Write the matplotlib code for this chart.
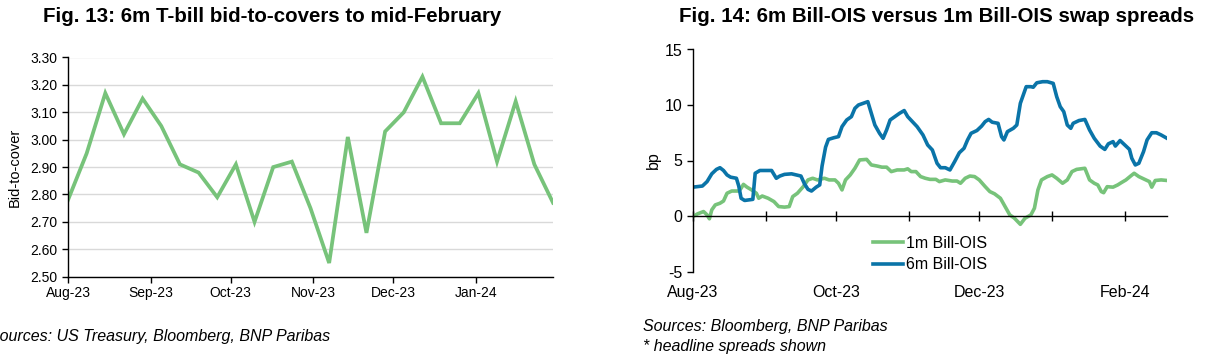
import matplotlib
matplotlib.use("Agg")
import matplotlib.pyplot as plt
import matplotlib.dates as mdates
from matplotlib.ticker import FixedLocator, FormatStrFormatter
import pandas as pd

plt.rcParams['font.family'] = ['Liberation Sans', 'DejaVu Sans']
plt.rcParams['axes.unicode_minus'] = False

# ---------------- Data: Fig. 13 (weekly 6m bill auctions) ----------------
auction_start = "2023-08-01"
bid_to_cover = [2.78, 2.95, 3.17, 3.02, 3.15, 3.05, 2.91, 2.88, 2.79, 2.91,
                2.70, 2.90, 2.92, 2.75, 2.55, 3.01, 2.66, 3.03, 3.10, 3.23,
                3.06, 3.06, 3.17, 2.92, 3.14, 2.91, 2.77]
left_yticks = [2.50, 2.60, 2.70, 2.80, 2.90, 3.00, 3.10, 3.20, 3.30]

# ---------------- Data: Fig. 14 (spreads, bp) ----------------
spread_start = "2023-08-01"
days_6m = [0, 4, 6, 8, 10, 11.5, 13, 14.5, 16, 18.5, 19.5, 20.5, 22, 25.5, 26.5,
           28.5, 33.5, 35.5, 37, 39, 42, 46, 47.5, 49, 50.5, 52.5, 54, 55, 56.5,
           57.7, 60, 62, 63.5, 65.5, 67.5, 69, 70.5, 72.5, 74.5, 76, 77.5, 79.5,
           81, 82.5, 84, 86, 88, 90, 91.5, 93.5, 95.5, 98, 100, 102, 104, 105.5,
           107.5, 109.5, 111.5, 113.5, 115.5, 117, 118.5, 121, 123, 124.5, 126,
           127.5, 130, 131.5, 132.5, 134, 136.5, 138, 139.5, 141, 142, 144, 145,
           146.5, 149, 151, 153.5, 155, 156.5, 158, 159.5, 161, 162, 164.5, 167,
           169, 171, 173.5, 175.5, 177, 179, 180, 182, 184, 186, 187, 188.5,
           190, 192, 193.5, 195.5, 197.5, 199.5, 202]
bill_ois_6m = [2.6, 2.7, 3.1, 3.8, 4.2, 4.35, 4.1, 3.7, 3.5, 3.4, 2.7, 1.6, 1.4,
               1.5, 3.85, 4.1, 4.1, 3.4, 3.6, 3.75, 3.8, 3.6, 2.9, 2.4, 2.25,
               2.6, 2.8, 4.5, 6.2, 6.9, 7.05, 7.15, 8.05, 8.65, 8.95, 9.7, 10.0,
               10.15, 10.3, 9.25, 8.2, 7.45, 7.0, 7.75, 8.65, 8.95, 9.25, 9.5,
               8.95, 8.5, 8.05, 7.3, 6.4, 5.95, 4.75, 4.35, 4.35, 4.15, 4.9, 5.7,
               6.1, 6.85, 7.45, 7.7, 8.1, 8.5, 8.7, 8.45, 8.35, 7.15, 6.85, 7.6,
               7.9, 8.2, 10.15, 11.05, 11.65, 11.65, 11.6, 12.0, 12.1, 12.1,
               11.95, 10.75, 9.85, 9.4, 8.2, 7.9, 8.35, 8.6, 8.7, 7.75, 7.0, 6.3,
               6.0, 6.5, 6.7, 6.3, 6.8, 6.4, 6.0, 5.2, 4.6, 4.75, 5.8, 6.85, 7.5,
               7.5, 7.3, 7.0]
days_1m = [0, 2, 4.5, 6, 7, 8, 9.5, 11.5, 13, 14.5, 16.5, 19.5, 20.5, 21.5, 23,
           25, 27, 28, 29.5, 32, 34.5, 36.5, 39, 41, 42.5, 44.5, 47, 49, 51, 53,
           56, 58, 60.5, 62, 63.5, 65, 67, 69, 71, 74, 76, 78.5, 80.5, 82.5,
           84.5, 87, 90, 91.5, 93, 95, 97, 99, 101, 103.5, 105, 107.5, 110.5,
           112.5, 114, 116, 118, 120, 122, 124.5, 126.5, 128.5, 131, 133, 135,
           137, 139.5, 141.5, 144, 145.5, 147, 148.5, 151, 153, 155, 157.5,
           159.5, 161.5, 163.5, 167, 169, 171, 172.5, 174, 175, 176.5, 179, 181,
           182.5, 184.5, 186.5, 188, 190, 193, 194.5, 195.5, 197, 199.5, 202]
bill_ois_1m = [-0.05, 0.2, 0.4, 0.1, -0.25, 0.55, 1.0, 1.15, 1.35, 2.05, 2.25,
               2.25, 2.5, 2.85, 2.6, 2.35, 2.05, 1.6, 1.8, 1.6, 1.3, 0.85, 0.8,
               0.85, 1.75, 2.05, 2.65, 3.25, 3.4, 3.25, 3.4, 3.25, 3.25, 2.95,
               2.35, 3.25, 3.7, 4.3, 5.05, 5.1, 4.6, 4.5, 4.4, 4.4, 4.0, 4.15,
               4.15, 4.25, 4.0, 4.0, 3.55, 3.4, 3.3, 3.3, 3.1, 3.25, 3.15, 3.15,
               2.95, 3.4, 3.6, 3.55, 3.25, 2.65, 2.2, 2.0, 1.6, 0.85, 0.1, -0.2,
               -0.75, -0.2, 0.1, 0.7, 2.35, 3.25, 3.55, 3.7, 3.4, 2.95, 3.25, 4.0,
               4.2, 4.3, 3.25, 2.95, 2.8, 2.2, 2.1, 2.64, 2.6, 2.8, 3.0, 3.25,
               3.6, 3.85, 3.55, 3.25, 3.1, 2.6, 3.2, 3.25, 3.2]
series_labels = ["1m Bill-OIS", "6m Bill-OIS"]
right_yticks = [-5, 0, 5, 10, 15]

GREEN = "#77c37a"
BLUE = "#0a74a8"

W, H = 1208, 364
fig = plt.figure(figsize=(W / 100, H / 100), dpi=100)

def fx(px):
    return px / W

def fy(py):
    return 1 - py / H

# ---------------- Left chart ----------------
auction_dates = pd.date_range(auction_start, periods=len(bid_to_cover), freq="7D")
axL = fig.add_axes([fx(68), fy(276.7), fx(553 - 68), (276.7 - 57.5) / H])
axL.plot(auction_dates, bid_to_cover, color=GREEN, lw=2.7, solid_joinstyle="miter")
axL.set_xlim(auction_dates[0], auction_dates[-1])
axL.set_ylim(left_yticks[0], left_yticks[-1])
axL.yaxis.set_major_locator(FixedLocator(left_yticks))
axL.yaxis.set_major_formatter(FormatStrFormatter("%.2f"))
axL.xaxis.set_major_locator(mdates.MonthLocator())
axL.xaxis.set_major_formatter(mdates.DateFormatter("%b-%y"))
axL.grid(axis="y", color="#d9d9d9", lw=1)
axL.set_axisbelow(True)
for s in ["top", "right"]:
    axL.spines[s].set_visible(False)
for s in ["left", "bottom"]:
    axL.spines[s].set_color("#000000")
    axL.spines[s].set_linewidth(1.0)
axL.tick_params(axis="both", direction="out", length=4, width=1, labelsize=10,
                colors="#000000")
axL.tick_params(axis="x", pad=3)
axL.set_ylabel("Bid-to-cover", fontsize=10.5, labelpad=6)

# ---------------- Right chart ----------------
t0 = pd.Timestamp(spread_start)
dates_6m = t0 + pd.to_timedelta(days_6m, unit="D")
dates_1m = t0 + pd.to_timedelta(days_1m, unit="D")
axR_top, axR_bot = 49.5, 271.5
axR = fig.add_axes([fx(693), fy(axR_bot), fx(1167 - 693), (axR_bot - axR_top) / H])
axR.plot(dates_1m, bill_ois_1m, color=GREEN, lw=2.6, label=series_labels[0])
axR.plot(dates_6m, bill_ois_6m, color=BLUE, lw=2.6, label=series_labels[1])
axR.set_xlim(t0, max(dates_6m[-1], dates_1m[-1]))
axR.set_ylim(right_yticks[0], right_yticks[-1])
axR.yaxis.set_major_locator(FixedLocator(right_yticks))
for s in ["top", "right"]:
    axR.spines[s].set_visible(False)
axR.spines["bottom"].set_position(("data", 0))
for s in ["left", "bottom"]:
    axR.spines[s].set_color("#000000")
    axR.spines[s].set_linewidth(1.0)
axR.xaxis.set_major_locator(mdates.MonthLocator(bymonth=[2, 8, 10, 12]))
axR.xaxis.set_minor_locator(mdates.MonthLocator())
axR.xaxis.set_major_formatter(mdates.DateFormatter("%b-%y"))
# pad so labels sit below the bottom of the plot
axes_h_pt = (axR_bot - axR_top) * 72 / 100
zero_frac = (0 - right_yticks[0]) / (right_yticks[-1] - right_yticks[0])
pad_pt = axes_h_pt * zero_frac + 6.2
axR.tick_params(axis="x", which="both", direction="inout", length=7, width=1,
                pad=pad_pt, labelsize=11.5)
axR.tick_params(axis="y", direction="out", length=4, width=1, labelsize=11.5)
axR.set_ylabel("bp", fontsize=11.5, labelpad=3)

leg = axR.legend(loc="upper left", bbox_to_anchor=(fx(873), fy(236)),
                 bbox_transform=fig.transFigure, frameon=False, fontsize=11.5,
                 handlelength=1.9, handletextpad=0.15, labelspacing=0.4,
                 borderpad=0, borderaxespad=0)

# ---------------- Titles & sources ----------------
fig.text(fx(43), fy(17), "Fig. 13: 6m T-bill bid-to-covers to mid-February",
         fontsize=14.75, fontweight="bold", ha="left", va="center")
fig.text(fx(679), fy(17), "Fig. 14: 6m Bill-OIS versus 1m Bill-OIS swap spreads",
         fontsize=14.75, fontweight="bold", ha="left", va="center")
fig.text(fx(-11), fy(337), "Sources: US Treasury, Bloomberg, BNP Paribas",
         fontsize=11.5, style="italic", ha="left", va="center")
fig.text(fx(643), fy(327), "Sources: Bloomberg, BNP Paribas",
         fontsize=11.5, style="italic", ha="left", va="center")
fig.text(fx(643), fy(346), "* headline spreads shown",
         fontsize=11.5, style="italic", ha="left", va="center")

fig.savefig("out.png", dpi=100)
